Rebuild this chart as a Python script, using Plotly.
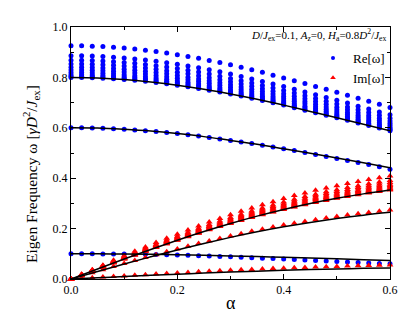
import plotly.graph_objects as go

# ---------------- data ----------------
alpha = [0.00, 0.02, 0.04, 0.06, 0.08, 0.10, 0.12, 0.14, 0.16, 0.18, 0.20,
         0.22, 0.24, 0.26, 0.28, 0.30, 0.32, 0.34, 0.36, 0.38, 0.40,
         0.42, 0.44, 0.46, 0.48, 0.50, 0.52, 0.54, 0.56, 0.58, 0.60]

# Re[w] of the upper band of modes (one row per mode)
re_band = [
    [0.926, 0.926, 0.924, 0.923, 0.920, 0.917, 0.913, 0.908, 0.903, 0.897, 0.890, 0.883, 0.876, 0.867, 0.859, 0.850, 0.840, 0.830, 0.820, 0.809, 0.798, 0.787, 0.776, 0.764, 0.753, 0.741, 0.729, 0.717, 0.705, 0.693, 0.681],
    [0.886, 0.886, 0.885, 0.883, 0.880, 0.877, 0.873, 0.869, 0.864, 0.858, 0.852, 0.845, 0.838, 0.830, 0.822, 0.813, 0.804, 0.794, 0.784, 0.774, 0.764, 0.753, 0.742, 0.731, 0.720, 0.709, 0.698, 0.686, 0.675, 0.663, 0.652],
    [0.868, 0.868, 0.867, 0.865, 0.862, 0.859, 0.856, 0.851, 0.846, 0.841, 0.835, 0.828, 0.821, 0.813, 0.805, 0.796, 0.787, 0.778, 0.768, 0.758, 0.748, 0.738, 0.727, 0.716, 0.705, 0.694, 0.683, 0.672, 0.661, 0.650, 0.638],
    [0.853, 0.853, 0.852, 0.850, 0.848, 0.845, 0.841, 0.837, 0.832, 0.826, 0.820, 0.814, 0.807, 0.799, 0.791, 0.783, 0.774, 0.765, 0.755, 0.745, 0.735, 0.725, 0.715, 0.704, 0.693, 0.682, 0.672, 0.660, 0.649, 0.638, 0.627],
    [0.840, 0.840, 0.839, 0.837, 0.835, 0.832, 0.828, 0.824, 0.819, 0.814, 0.808, 0.801, 0.794, 0.787, 0.779, 0.771, 0.762, 0.753, 0.744, 0.734, 0.724, 0.714, 0.704, 0.693, 0.683, 0.672, 0.661, 0.650, 0.640, 0.629, 0.618],
    [0.829, 0.829, 0.828, 0.826, 0.824, 0.821, 0.817, 0.813, 0.808, 0.803, 0.797, 0.791, 0.784, 0.777, 0.769, 0.761, 0.752, 0.743, 0.734, 0.724, 0.715, 0.705, 0.695, 0.684, 0.674, 0.663, 0.653, 0.642, 0.631, 0.620, 0.610],
    [0.819, 0.819, 0.818, 0.816, 0.814, 0.811, 0.807, 0.803, 0.798, 0.793, 0.787, 0.781, 0.774, 0.767, 0.759, 0.751, 0.743, 0.734, 0.725, 0.716, 0.706, 0.696, 0.686, 0.676, 0.666, 0.655, 0.645, 0.634, 0.624, 0.613, 0.602],
    [0.811, 0.811, 0.810, 0.808, 0.806, 0.803, 0.800, 0.795, 0.791, 0.785, 0.780, 0.774, 0.767, 0.760, 0.752, 0.744, 0.736, 0.727, 0.718, 0.709, 0.699, 0.689, 0.680, 0.669, 0.659, 0.649, 0.638, 0.628, 0.617, 0.607, 0.596],
    [0.805, 0.805, 0.804, 0.802, 0.800, 0.797, 0.794, 0.790, 0.785, 0.780, 0.774, 0.768, 0.761, 0.754, 0.746, 0.739, 0.730, 0.722, 0.713, 0.703, 0.694, 0.684, 0.674, 0.664, 0.654, 0.644, 0.634, 0.623, 0.613, 0.602, 0.592],
    [0.800, 0.800, 0.799, 0.797, 0.795, 0.792, 0.789, 0.785, 0.780, 0.775, 0.769, 0.763, 0.756, 0.749, 0.742, 0.734, 0.726, 0.717, 0.708, 0.699, 0.690, 0.680, 0.670, 0.660, 0.650, 0.640, 0.630, 0.619, 0.609, 0.599, 0.588],
]
# Im[w] of the same band of modes
im_band = [
    [0, .019, .037, .055, .074, .092, .110, .127, .145, .162, .178, .194, .210, .226, .240, .255, .269, .282, .295, .307, .319, .331, .341, .352, .361, .370, .379, .387, .395, .402, .409],
    [0, .018, .035, .053, .070, .088, .105, .122, .138, .155, .170, .186, .201, .216, .230, .244, .257, .270, .282, .294, .306, .316, .327, .336, .346, .354, .363, .370, .378, .385, .391],
    [0, .017, .035, .052, .069, .086, .103, .119, .135, .151, .167, .182, .197, .211, .225, .239, .252, .265, .277, .288, .299, .310, .320, .330, .339, .347, .355, .363, .370, .377, .383],
    [0, .017, .034, .051, .068, .084, .101, .117, .133, .149, .164, .179, .194, .208, .221, .235, .248, .260, .272, .283, .294, .305, .314, .324, .333, .341, .349, .357, .364, .370, .376],
    [0, .017, .034, .050, .067, .083, .099, .115, .131, .147, .162, .176, .191, .205, .218, .231, .244, .256, .268, .279, .290, .300, .310, .319, .328, .336, .344, .351, .358, .365, .371],
    [0, .017, .033, .050, .066, .082, .098, .114, .129, .145, .159, .174, .188, .202, .215, .228, .241, .253, .264, .275, .286, .296, .306, .315, .323, .332, .339, .347, .353, .360, .366],
    [0, .016, .033, .049, .065, .081, .097, .112, .128, .143, .158, .172, .186, .199, .213, .225, .238, .250, .261, .272, .282, .292, .302, .311, .320, .328, .335, .342, .349, .355, .361],
    [0, .016, .032, .049, .064, .080, .096, .111, .127, .141, .156, .170, .184, .198, .211, .223, .235, .247, .259, .269, .280, .290, .299, .308, .316, .324, .332, .339, .346, .352, .358],
    [0, .016, .032, .048, .064, .080, .095, .111, .126, .140, .155, .169, .183, .196, .209, .222, .234, .245, .257, .267, .278, .287, .297, .306, .314, .322, .330, .337, .343, .349, .355],
    [0, .016, .032, .048, .064, .079, .095, .110, .125, .140, .154, .168, .182, .195, .208, .220, .232, .244, .255, .266, .276, .286, .295, .304, .312, .320, .327, .334, .341, .347, .353],
]
re_mid = [0.600, 0.600, 0.599, 0.598, 0.596, 0.594, 0.591, 0.588, 0.585, 0.581, 0.577, 0.572, 0.567, 0.562, 0.556, 0.550, 0.544, 0.538, 0.531, 0.524, 0.517, 0.510, 0.502, 0.494, 0.486, 0.478, 0.470, 0.462, 0.454, 0.445, 0.436]
im_mid = [0, 0.0124, 0.0248, 0.0371, 0.0493, 0.0614, 0.0733, 0.0851, 0.0967, 0.1081, 0.1192, 0.1301, 0.1407, 0.1510, 0.1610, 0.1706, 0.1800, 0.1890, 0.1976, 0.2059, 0.2138, 0.2213, 0.2286, 0.2354, 0.2419, 0.2480, 0.2538, 0.2592, 0.2643, 0.2691, 0.2735]
re_low = [0.100, 0.100, 0.0999, 0.0997, 0.0994, 0.0990, 0.0985, 0.0978, 0.0970, 0.0961, 0.0950, 0.0938, 0.0925, 0.0911, 0.0896, 0.0880, 0.0863, 0.0846, 0.0828, 0.0810, 0.0791, 0.0772, 0.0753, 0.0734, 0.0715, 0.0696, 0.0677, 0.0658, 0.0639, 0.0620, 0.0601]
im_low = [0, 0.0025, 0.0050, 0.0075, 0.0099, 0.0124, 0.0148, 0.0172, 0.0195, 0.0218, 0.0240, 0.0262, 0.0284, 0.0304, 0.0325, 0.0344, 0.0363, 0.0381, 0.0398, 0.0415, 0.0431, 0.0446, 0.0461, 0.0475, 0.0488, 0.0500, 0.0512, 0.0523, 0.0533, 0.0543, 0.0551]

# analytic curves (black lines)
alpha_line = [0.00, 0.05, 0.10, 0.15, 0.20, 0.25, 0.30, 0.35, 0.40, 0.45, 0.50, 0.55, 0.60]
re_line_08 = [0.800, 0.798, 0.792, 0.782, 0.769, 0.753, 0.734, 0.713, 0.690, 0.665, 0.640, 0.614, 0.588]
re_line_06 = [0.600, 0.599, 0.594, 0.587, 0.577, 0.565, 0.550, 0.535, 0.517, 0.499, 0.480, 0.461, 0.441]
re_line_01 = [0.100, 0.0998, 0.0990, 0.0978, 0.0962, 0.0941, 0.0917, 0.0891, 0.0862, 0.0832, 0.0800, 0.0768, 0.0735]
im_line_08 = [0, 0.0399, 0.0792, 0.1174, 0.1538, 0.1882, 0.2202, 0.2495, 0.2759, 0.2994, 0.3200, 0.3378, 0.3529]
im_line_06 = [0, 0.0299, 0.0594, 0.0880, 0.1154, 0.1412, 0.1651, 0.1871, 0.2069, 0.2245, 0.2400, 0.2534, 0.2647]
im_line_01 = [0, 0.0050, 0.0099, 0.0147, 0.0192, 0.0235, 0.0275, 0.0312, 0.0345, 0.0374, 0.0400, 0.0422, 0.0441]

x_ticks = [0.0, 0.2, 0.4, 0.6]
y_ticks = [0.0, 0.2, 0.4, 0.6, 0.8, 1.0]

# ---------------- figure ----------------
FONT = "Liberation Serif, Times New Roman, serif"
BLUE = "#0000FF"
RED = "#FF0000"

fig = go.Figure()

re_series = re_band + [re_mid, re_low]
im_series = im_band + [im_mid, im_low]

for ys in re_series:
    fig.add_trace(go.Scatter(
        x=alpha, y=ys, mode="markers", showlegend=False,
        marker=dict(symbol="circle", size=5, color=BLUE, line=dict(width=0)),
        cliponaxis=False))
for ys in im_series:
    fig.add_trace(go.Scatter(
        x=alpha, y=ys, mode="markers", showlegend=False,
        marker=dict(symbol="triangle-up", size=6, color=RED, line=dict(width=0)),
        cliponaxis=False))

for ys in [re_line_08, re_line_06, re_line_01, im_line_08, im_line_06, im_line_01]:
    fig.add_trace(go.Scatter(
        x=alpha_line, y=ys, mode="lines", showlegend=False,
        line=dict(color="black", width=1.5, shape="spline"),
        hoverinfo="skip"))

# legend-only entries (no data points)
fig.add_trace(go.Scatter(x=[None], y=[None], mode="markers", name="Re[ω]",
                         marker=dict(symbol="circle", size=4, color=BLUE)))
fig.add_trace(go.Scatter(x=[None], y=[None], mode="markers", name="Im[ω]",
                         marker=dict(symbol="triangle-up", size=5, color=RED)))

axis_common = dict(
    showline=True, linecolor="black", linewidth=1, mirror="allticks",
    ticks="inside", ticklen=5, tickwidth=1, tickcolor="black",
    showgrid=False, zeroline=False,
    tickfont=dict(family=FONT, size=12, color="black"),
)

fig.update_xaxes(range=[0, 0.6], tickvals=x_ticks, ticktext=[f"{v:.1f}" for v in x_ticks],
                 minor=dict(dtick=0.1, tick0=0, ticks="inside", ticklen=3, tickcolor="black"),
                 **axis_common)
fig.update_yaxes(range=[0, 1.0], tickvals=y_ticks, ticktext=[f"{v:.1f}" for v in y_ticks],
                 minor=dict(dtick=0.1, tick0=0, ticks="inside", ticklen=3, tickcolor="black"),
                 **axis_common)

L, R, T, B = 63, 33, 19, 47
W, H = 415, 318
pw, ph = W - L - R, H - T - B

def px_x(p):
    return (p - L) / pw

def px_y(p):
    return (H - B - p) / ph

fig.add_annotation(
    text="Eigen Frequency ω [<i>γD</i><sup>2</sup>/<i>J</i><sub>ex</sub>]",
    xref="paper", yref="paper", x=px_x(23), y=px_y(166),
    xanchor="center", yanchor="middle", textangle=-90, showarrow=False,
    font=dict(family=FONT, size=15.5, color="black"))
fig.add_annotation(
    text="α", xref="paper", yref="paper", x=0.5, y=px_y(295),
    xanchor="center", yanchor="middle", showarrow=False,
    font=dict(family=FONT, size=18, color="black"))
fig.add_annotation(
    text="<i>D</i>/<i>J</i><sub>ex</sub>=0.1, <i>A</i><sub>z</sub>=0, <i>H</i><sub>a</sub>=0.8<i>D</i><sup>2</sup>/<i>J</i><sub>ex</sub>",
    xref="paper", yref="paper", x=px_x(381), y=px_y(27),
    xanchor="right", yanchor="middle", showarrow=False,
    font=dict(family=FONT, size=11, color="black"))

fig.update_layout(
    width=W, height=H,
    margin=dict(l=L, r=R, t=T, b=B),
    paper_bgcolor="white", plot_bgcolor="white",
    font=dict(family=FONT, color="black"),
    legend=dict(x=px_x(305), y=px_y(35), xanchor="left", yanchor="top",
                bgcolor="rgba(0,0,0,0)", borderwidth=0,
                font=dict(family=FONT, size=13, color="black"),
                tracegroupgap=0, itemsizing="trace"),
)

fig.write_html("out.html")
